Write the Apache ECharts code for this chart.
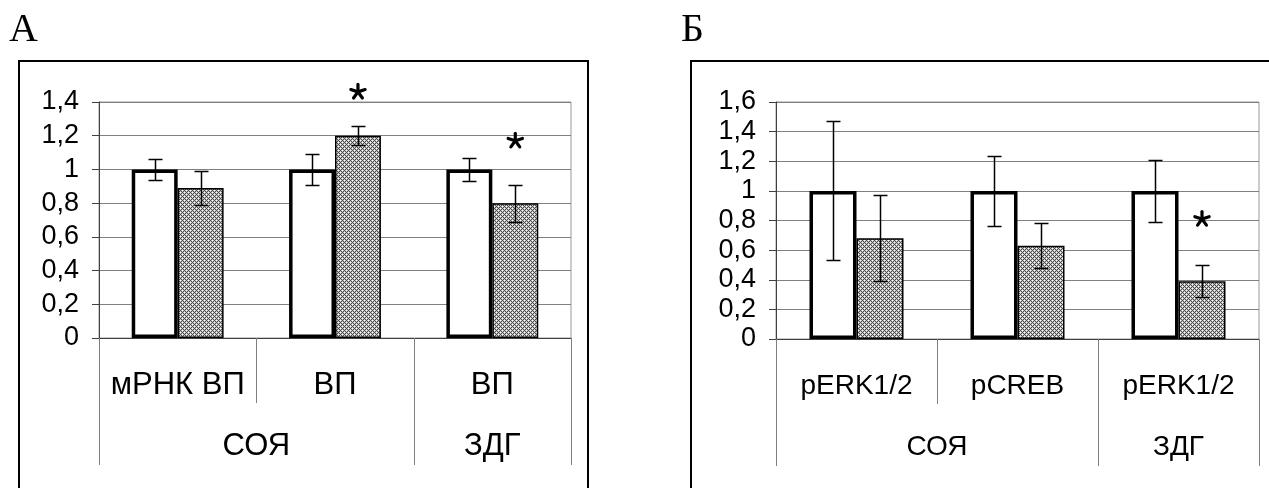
<!DOCTYPE html>
<html><head><meta charset="utf-8">
<script src="https://cdn.jsdelivr.net/npm/echarts@6/dist/echarts.min.js"></script>
<style>html,body{margin:0;padding:0;background:#fff}#c{width:1269px;height:488px}</style>
</head><body><div id="c"></div>
<script>
// ---- data: panel A ----
const catsA = ['мРНК ВП', 'ВП', 'ВП'];
const groupNamesA = ['СОЯ', 'ЗДГ'];
const groupSpansA = [2, 1];
const ctrlA = [1, 1, 1];
const ctrlErrA = [0.06, 0.09, 0.07];
const expA = [0.89, 1.2, 0.8];
const expErrA = [0.10, 0.055, 0.11];
const starsA = [[1, 1.46], [2, 1.17]];
// ---- data: panel B ----
const catsB = ['pERK1/2', 'pCREB', 'pERK1/2'];
const groupNamesB = ['СОЯ', 'ЗДГ'];
const groupSpansB = [2, 1];
const ctrlB = [1, 1, 1];
const ctrlErrB = [0.47, 0.235, 0.21];
const expB = [0.68, 0.63, 0.39];
const expErrB = [0.29, 0.15, 0.107];
const starsB = [[2, 0.81]];
const panelLetters = ['А', 'Б'];

const FONT = '"Liberation Sans", Arial, sans-serif';
const GAP = 0.416;

function makePattern() {
  const c = document.createElement('canvas'); c.width = 4; c.height = 4;
  const g = c.getContext('2d');
  g.fillStyle = '#4a4a4a'; g.fillRect(0, 0, 4, 4);
  g.fillStyle = '#c4c4c4';
  [[1,0],[3,0],[0,1],[0,3],[1,2],[3,2],[2,1],[2,3]].forEach(p => g.fillRect(p[0], p[1], 1, 1));
  g.fillStyle = '#fff'; g.fillRect(0, 0, 1, 1); g.fillRect(2, 2, 1, 1);
  return c;
}
const pattern = { image: makePattern(), repeat: 'repeat' };

const fmt = v => String(+(+v).toFixed(1)).replace('.', ',');

function errSeries(gi, vals, errs, side) {
  return {
    type: 'custom', xAxisIndex: gi, yAxisIndex: gi, clip: false, z: 5, silent: true,
    data: vals.map((v, i) => [i, v, errs[i]]), encode: { x: 0, y: 1 },
    renderItem: (params, api) => {
      const i = api.value(0), v = api.value(1), e = api.value(2);
      const band = api.size([1, 0])[0]; const bw = band * (1 - GAP) / 2;
      const x = Math.round(api.coord([i, v])[0] + side * bw / 2) + 0.5;
      const yt = Math.round(api.coord([i, v + e])[1]) + 0.5, yb = Math.round(api.coord([i, v - e])[1]) + 0.5;
      const st = { stroke: '#000', lineWidth: 1.5 };
      return { type: 'group', children: [
        { type: 'line', shape: { x1: x, y1: yt, x2: x, y2: yb }, style: st },
        { type: 'line', shape: { x1: x - 7, y1: yt, x2: x + 7, y2: yt }, style: st },
        { type: 'line', shape: { x1: x - 7, y1: yb, x2: x + 7, y2: yb }, style: st }
      ] };
    }
  };
}

function starSeries(gi, stars) {
  return {
    type: 'custom', xAxisIndex: gi, yAxisIndex: gi, clip: false, z: 6, silent: true,
    data: stars, encode: { x: 0, y: 1 },
    renderItem: (params, api) => {
      const i = api.value(0), v = api.value(1);
      const band = api.size([1, 0])[0]; const bw = band * (1 - GAP) / 2;
      const c = api.coord([i, v]);
      const cx = c[0] + bw / 2, cy = c[1];
      const L = 7.5, ch = [];
      for (let k = 0; k < 5; k++) {
        const a = (k * 72 - 90) * Math.PI / 180;
        ch.push({ type: 'line', shape: { x1: cx, y1: cy, x2: cx + L * Math.cos(a), y2: cy + L * Math.sin(a) },
          style: { stroke: '#000', lineWidth: 3.2, lineCap: 'round' } });
      }
      return { type: 'group', children: ch };
    }
  };
}

function decorSeries(gi, cats, gNames, gSpans, fs) {
  const starts = []; let s = 0; gSpans.forEach(n => { starts.push(s); s += n; });
  return {
    type: 'custom', xAxisIndex: gi, yAxisIndex: gi, clip: false, silent: true,
    data: cats.map((c, i) => [i, 0]), encode: { x: 0, y: 1 },
    renderItem: (params, api) => {
      const i = params.dataIndex; const c = api.coord([i, 0]); const band = api.size([1, 0])[0];
      const xl = Math.round(c[0] - band / 2) + 0.5, y0 = c[1];
      const st = { stroke: '#808080', lineWidth: 1 };
      const ch = [];
      const k = starts.indexOf(i);
      ch.push({ type: 'line', shape: { x1: xl, y1: y0, x2: xl, y2: y0 + (k >= 0 ? 127 : 65) }, style: st });
      if (i === cats.length - 1) {
        const xr = Math.round(c[0] + band / 2) + 0.5;
        ch.push({ type: 'line', shape: { x1: xr, y1: y0, x2: xr, y2: y0 + 127 }, style: st });
      }
      if (k >= 0) {
        const xc = c[0] - band / 2 + band * gSpans[k] / 2;
        ch.push({ type: 'text', style: { text: gNames[k], x: xc, y: y0 + 108, align: 'center', verticalAlign: 'middle',
          textAlign: 'center', textVerticalAlign: 'middle', fontSize: fs, fontFamily: FONT, fill: '#000' } });
      }
      return { type: 'group', children: ch };
    }
  };
}

function xAxis(gi, cats, fs) {
  return { type: 'category', gridIndex: gi, data: cats,
    axisLine: { lineStyle: { color: '#404040', width: 1 } }, axisTick: { show: false },
    axisLabel: { interval: 0, margin: 47 - fs / 2, fontSize: fs, color: '#000', fontFamily: FONT },
    splitLine: { show: false } };
}
function yAxis(gi, max) {
  return { type: 'value', gridIndex: gi, min: 0, max: max, interval: 0.2,
    axisLine: { show: true, lineStyle: { color: '#404040' } },
    axisTick: { show: true, length: 7, lineStyle: { color: '#404040' } },
    axisLabel: { fontSize: 27, margin: 20, color: '#000', fontFamily: FONT, formatter: fmt },
    splitLine: { lineStyle: { color: '#808080', width: 1 } } };
}
function bars(gi, ctrl, exp) {
  return [
    { type: 'bar', xAxisIndex: gi, yAxisIndex: gi, data: ctrl, barGap: '0%', barCategoryGap: (GAP * 100) + '%',
      itemStyle: { color: '#fff', borderColor: '#000', borderWidth: 3.5 }, z: 3 },
    { type: 'bar', xAxisIndex: gi, yAxisIndex: gi, data: exp, barGap: '0%', barCategoryGap: (GAP * 100) + '%',
      itemStyle: { color: pattern, borderColor: '#000', borderWidth: 1.5 }, z: 2 }
  ];
}

const chart = echarts.init(document.getElementById('c'), null, { renderer: 'canvas' });
chart.setOption({
  animation: false,
  backgroundColor: '#fff',
  grid: [
    { left: 99, top: 102, width: 472, height: 236, show: true, borderColor: '#999', borderWidth: 1, backgroundColor: 'transparent' },
    { left: 776, top: 102, width: 483, height: 237, show: true, borderColor: '#999', borderWidth: 1, backgroundColor: 'transparent' }
  ],
  xAxis: [xAxis(0, catsA, 31), xAxis(1, catsB, 28)],
  yAxis: [yAxis(0, 1.4), yAxis(1, 1.6)],
  graphic: [
    { type: 'rect', shape: { x: 19, y: 61, width: 569, height: 460 }, style: { fill: 'none', stroke: '#000', lineWidth: 2 } },
    { type: 'rect', shape: { x: 691, y: 61, width: 600, height: 460 }, style: { fill: 'none', stroke: '#000', lineWidth: 2 } },
    { type: 'text', left: 9, top: 10, style: { text: panelLetters[0], fontSize: 40, fontFamily: '"Liberation Serif", "Times New Roman", serif', fill: '#000' } },
    { type: 'text', left: 681, top: 10, style: { text: panelLetters[1], fontSize: 40, fontFamily: '"Liberation Serif", "Times New Roman", serif', fill: '#000' } }
  ],
  series: [
    ...bars(0, ctrlA, expA),
    errSeries(0, ctrlA, ctrlErrA, -1), errSeries(0, expA, expErrA, 1),
    starSeries(0, starsA), decorSeries(0, catsA, groupNamesA, groupSpansA, 31),
    ...bars(1, ctrlB, expB),
    errSeries(1, ctrlB, ctrlErrB, -1), errSeries(1, expB, expErrB, 1),
    starSeries(1, starsB), decorSeries(1, catsB, groupNamesB, groupSpansB, 28)
  ]
});
</script></body></html>
